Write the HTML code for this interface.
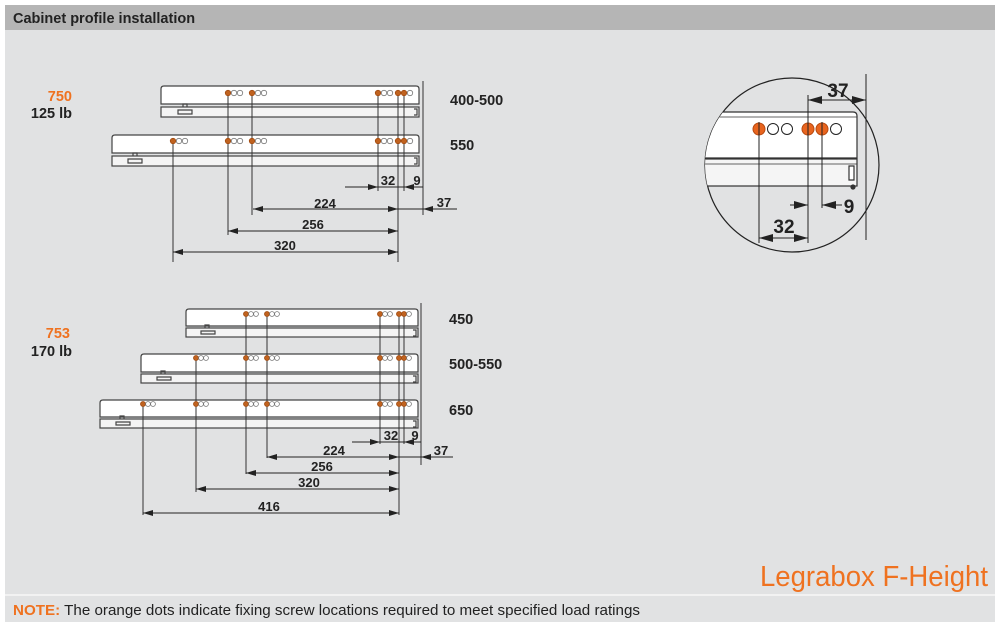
<!DOCTYPE html>
<html><head><meta charset="utf-8"><style>
html,body{margin:0;padding:0;background:#fff;width:1000px;height:629px;overflow:hidden}
svg{display:block}
text{font-family:"Liberation Sans",Arial,sans-serif}
</style></head><body>
<svg width="1000" height="629" viewBox="0 0 1000 629" xmlns="http://www.w3.org/2000/svg">
<defs>
<marker id="a" markerWidth="10" markerHeight="6" refX="10" refY="3" orient="auto" markerUnits="userSpaceOnUse"><path d="M0,0 L10,3 L0,6 z" fill="#222"/></marker>
<marker id="b" markerWidth="10" markerHeight="6" refX="0" refY="3" orient="auto" markerUnits="userSpaceOnUse"><path d="M10,0 L0,3 L10,6 z" fill="#222"/></marker>
<marker id="A" markerWidth="14" markerHeight="8" refX="14" refY="4" orient="auto" markerUnits="userSpaceOnUse"><path d="M0,0 L14,4 L0,8 z" fill="#222"/></marker>
<marker id="B" markerWidth="14" markerHeight="8" refX="0" refY="4" orient="auto" markerUnits="userSpaceOnUse"><path d="M14,0 L0,4 L14,8 z" fill="#222"/></marker>
<clipPath id="cc"><circle cx="792" cy="165" r="87"/></clipPath>
</defs>
<rect x="5" y="5" width="990" height="617" fill="#e1e2e3"/>
<rect x="5" y="5" width="990" height="25" fill="#b5b5b5"/>
<text x="13" y="23" font-size="14.5" font-weight="bold" fill="#222">Cabinet profile installation</text>
<rect x="5" y="594" width="990" height="2" fill="#f2f2f2"/>
<text x="13" y="615" font-size="15" fill="#222" textLength="627" lengthAdjust="spacingAndGlyphs"><tspan fill="#ef7220" font-weight="bold">NOTE:</tspan> The orange dots indicate fixing screw locations required to meet specified load ratings</text>
<text x="760" y="586" font-size="29" fill="#ef7220" textLength="228" lengthAdjust="spacingAndGlyphs">Legrabox F-Height</text>

<g font-weight="bold" font-size="14.5" fill="#222">
<text x="72" y="101" text-anchor="end" fill="#ef7220">750</text>
<text x="72" y="118" text-anchor="end">125 lb</text>
<text x="450" y="105">400-500</text>
<text x="450" y="150">550</text>
<text x="70" y="338" text-anchor="end" fill="#ef7220">753</text>
<text x="72" y="356" text-anchor="end">170 lb</text>
<text x="449" y="324">450</text>
<text x="449" y="369">500-550</text>
<text x="449" y="415">650</text>
</g>

<g stroke="#444" stroke-width="1.2" fill="#fff">
<path d="M161,104 V89 Q161,86 164,86 H416 Q419,86 419,89 V104 Z"/>
<rect x="161" y="107" width="258" height="10" fill="#f4f4f4"/>
<path d="M112,153 V138 Q112,135 115,135 H416 Q419,135 419,138 V153 Z"/>
<rect x="112" y="156" width="307" height="10" fill="#f4f4f4"/>
<path d="M186,326 V312 Q186,309 189,309 H415 Q418,309 418,312 V326 Z"/>
<rect x="186" y="328" width="232" height="9" fill="#f4f4f4"/>
<path d="M141,372 V357 Q141,354 144,354 H415 Q418,354 418,357 V372 Z"/>
<rect x="141" y="374" width="277" height="9" fill="#f4f4f4"/>
<path d="M100,417 V403 Q100,400 103,400 H415 Q418,400 418,403 V417 Z"/>
<rect x="100" y="419" width="318" height="9" fill="#f4f4f4"/>
</g>
<g stroke="#444" stroke-width="1.2" fill="none">
<path d="M178,110 h14 v4 h-14 z M183,107 v-3 h4 v3"/>
<path d="M128,159 h14 v4 h-14 z M133,156 v-3 h4 v3"/>
<path d="M201,331 h14 v3 h-14 z M205,328 v-3 h4 v3"/>
<path d="M157,377 h14 v3 h-14 z M161,374 v-3 h4 v3"/>
<path d="M116,422 h14 v3 h-14 z M120,419 v-3 h4 v3"/>
<path d="M414,109 h3 v6 h-3 M414,158 h3 v6 h-3 M413,330 h3 v6 h-3 M413,376 h3 v6 h-3 M413,421 h3 v6 h-3"/>
</g>

<g stroke="#333" stroke-width="1">
<line x1="423" y1="81" x2="423" y2="215"/>
<line x1="228" y1="93" x2="228" y2="235"/>
<line x1="252" y1="93" x2="252" y2="215"/>
<line x1="173" y1="141" x2="173" y2="262"/>
<line x1="378" y1="93" x2="378" y2="191"/>
<line x1="398" y1="93" x2="398" y2="262"/>
<line x1="404" y1="93" x2="404" y2="191"/>
<line x1="421" y1="303" x2="421" y2="465"/>
<line x1="246" y1="314" x2="246" y2="474"/>
<line x1="267" y1="314" x2="267" y2="458"/>
<line x1="380" y1="314" x2="380" y2="444"/>
<line x1="399" y1="314" x2="399" y2="515"/>
<line x1="404" y1="314" x2="404" y2="444"/>
<line x1="196" y1="358" x2="196" y2="492"/>
<line x1="143" y1="404" x2="143" y2="515"/>
</g>

<g stroke="#222" stroke-width="1" fill="none">
<line x1="345" y1="187" x2="378" y2="187" marker-end="url(#a)"/>
<line x1="378" y1="187" x2="404" y2="187"/>
<line x1="423" y1="187" x2="404" y2="187" marker-end="url(#a)"/>
<line x1="253" y1="209" x2="398" y2="209" marker-start="url(#b)" marker-end="url(#a)"/>
<line x1="398" y1="209" x2="423" y2="209"/>
<line x1="457" y1="209" x2="423" y2="209" marker-end="url(#a)"/>
<line x1="228" y1="231" x2="398" y2="231" marker-start="url(#b)" marker-end="url(#a)"/>
<line x1="173" y1="252" x2="398" y2="252" marker-start="url(#b)" marker-end="url(#a)"/>
<line x1="352" y1="442" x2="380" y2="442" marker-end="url(#a)"/>
<line x1="380" y1="442" x2="404" y2="442"/>
<line x1="421" y1="442" x2="404" y2="442" marker-end="url(#a)"/>
<line x1="267" y1="457" x2="399" y2="457" marker-start="url(#b)" marker-end="url(#a)"/>
<line x1="399" y1="457" x2="421" y2="457"/>
<line x1="453" y1="457" x2="421" y2="457" marker-end="url(#a)"/>
<line x1="246" y1="473" x2="399" y2="473" marker-start="url(#b)" marker-end="url(#a)"/>
<line x1="196" y1="489" x2="399" y2="489" marker-start="url(#b)" marker-end="url(#a)"/>
<line x1="143" y1="513" x2="399" y2="513" marker-start="url(#b)" marker-end="url(#a)"/>
</g>
<g font-weight="bold" font-size="13" fill="#222" text-anchor="middle">
<text x="388" y="185">32</text><text x="417" y="185">9</text>
<text x="325" y="208">224</text><text x="444" y="207">37</text>
<text x="313" y="229">256</text><text x="285" y="250">320</text>
<text x="391" y="440">32</text><text x="415" y="440">9</text>
<text x="334" y="455">224</text><text x="441" y="455">37</text>
<text x="322" y="471">256</text><text x="309" y="487">320</text>
<text x="269" y="511">416</text>
</g>

<g stroke="#777" stroke-width="0.8">
<g fill="#c0621f" stroke="#a04a10">
<circle cx="228" cy="93" r="2.7"/><circle cx="252" cy="93" r="2.7"/><circle cx="378" cy="93" r="2.7"/><circle cx="398" cy="93" r="2.7"/><circle cx="404" cy="93" r="2.7"/>
<circle cx="173" cy="141" r="2.7"/><circle cx="228" cy="141" r="2.7"/><circle cx="252" cy="141" r="2.7"/><circle cx="378" cy="141" r="2.7"/><circle cx="398" cy="141" r="2.7"/><circle cx="404" cy="141" r="2.7"/>
<circle cx="246" cy="314" r="2.5"/><circle cx="267" cy="314" r="2.5"/><circle cx="380" cy="314" r="2.5"/><circle cx="399" cy="314" r="2.5"/><circle cx="404" cy="314" r="2.5"/>
<circle cx="196" cy="358" r="2.5"/><circle cx="246" cy="358" r="2.5"/><circle cx="267" cy="358" r="2.5"/><circle cx="380" cy="358" r="2.5"/><circle cx="399" cy="358" r="2.5"/><circle cx="404" cy="358" r="2.5"/>
<circle cx="143" cy="404" r="2.5"/><circle cx="196" cy="404" r="2.5"/><circle cx="246" cy="404" r="2.5"/><circle cx="267" cy="404" r="2.5"/><circle cx="380" cy="404" r="2.5"/><circle cx="399" cy="404" r="2.5"/><circle cx="404" cy="404" r="2.5"/>
</g>
<g fill="#fff">
<circle cx="234" cy="93" r="2.7"/><circle cx="240" cy="93" r="2.7"/><circle cx="258" cy="93" r="2.7"/><circle cx="264" cy="93" r="2.7"/><circle cx="384" cy="93" r="2.7"/><circle cx="390" cy="93" r="2.7"/><circle cx="410" cy="93" r="2.7"/>
<circle cx="179" cy="141" r="2.7"/><circle cx="185" cy="141" r="2.7"/><circle cx="234" cy="141" r="2.7"/><circle cx="240" cy="141" r="2.7"/><circle cx="258" cy="141" r="2.7"/><circle cx="264" cy="141" r="2.7"/><circle cx="384" cy="141" r="2.7"/><circle cx="390" cy="141" r="2.7"/><circle cx="410" cy="141" r="2.7"/>
<circle cx="251" cy="314" r="2.4"/><circle cx="256" cy="314" r="2.4"/><circle cx="272" cy="314" r="2.4"/><circle cx="277" cy="314" r="2.4"/><circle cx="385" cy="314" r="2.4"/><circle cx="390" cy="314" r="2.4"/><circle cx="409" cy="314" r="2.4"/>
<circle cx="201" cy="358" r="2.4"/><circle cx="206" cy="358" r="2.4"/><circle cx="251" cy="358" r="2.4"/><circle cx="256" cy="358" r="2.4"/><circle cx="272" cy="358" r="2.4"/><circle cx="277" cy="358" r="2.4"/><circle cx="385" cy="358" r="2.4"/><circle cx="390" cy="358" r="2.4"/><circle cx="409" cy="358" r="2.4"/>
<circle cx="148" cy="404" r="2.4"/><circle cx="153" cy="404" r="2.4"/><circle cx="201" cy="404" r="2.4"/><circle cx="206" cy="404" r="2.4"/><circle cx="251" cy="404" r="2.4"/><circle cx="256" cy="404" r="2.4"/><circle cx="272" cy="404" r="2.4"/><circle cx="277" cy="404" r="2.4"/><circle cx="385" cy="404" r="2.4"/><circle cx="390" cy="404" r="2.4"/><circle cx="409" cy="404" r="2.4"/>
</g>
</g>

<circle cx="792" cy="165" r="87" fill="#e1e2e3" stroke="#222" stroke-width="1.2"/>
<g clip-path="url(#cc)" stroke="#333" stroke-width="1.2">
<path d="M690,158 V112 H853 Q857,112 857,116 V158 Z" fill="#fff"/>
<line x1="700" y1="117" x2="857" y2="117" stroke-width="0.8"/>
<rect x="690" y="159" width="167" height="27" fill="#f5f5f5"/>
<line x1="690" y1="164" x2="857" y2="164" stroke-width="0.8"/>
<path d="M849,166 h5 v14 h-5 z" fill="#fff"/>
<circle cx="853" cy="187" r="2" fill="#333"/>
</g>
<g stroke="#222" stroke-width="1">
<circle cx="759" cy="129" r="6" fill="#e8641e" stroke="#b84a10"/>
<circle cx="773" cy="129" r="5.5" fill="#fff"/>
<circle cx="787" cy="129" r="5.5" fill="#fff"/>
<circle cx="808" cy="129" r="6" fill="#e8641e" stroke="#b84a10"/>
<circle cx="822" cy="129" r="6" fill="#e8641e" stroke="#b84a10"/>
<circle cx="836" cy="129" r="5.5" fill="#fff"/>
<line x1="759" y1="122" x2="759" y2="243"/>
<line x1="808" y1="95" x2="808" y2="243"/>
<line x1="822" y1="122" x2="822" y2="208"/>
<line x1="866" y1="74" x2="866" y2="240"/>
<line x1="808" y1="100" x2="866" y2="100" marker-start="url(#B)" marker-end="url(#A)"/>
<line x1="790" y1="205" x2="808" y2="205" marker-end="url(#A)"/>
<line x1="842" y1="205" x2="822" y2="205" marker-end="url(#A)"/>
<line x1="759" y1="238" x2="808" y2="238" marker-start="url(#B)" marker-end="url(#A)"/>
</g>
<g font-weight="bold" font-size="19" fill="#222" text-anchor="middle">
<text x="838" y="97">37</text>
<text x="849" y="213">9</text>
<text x="784" y="233">32</text>
</g>
</svg>
</body></html>
